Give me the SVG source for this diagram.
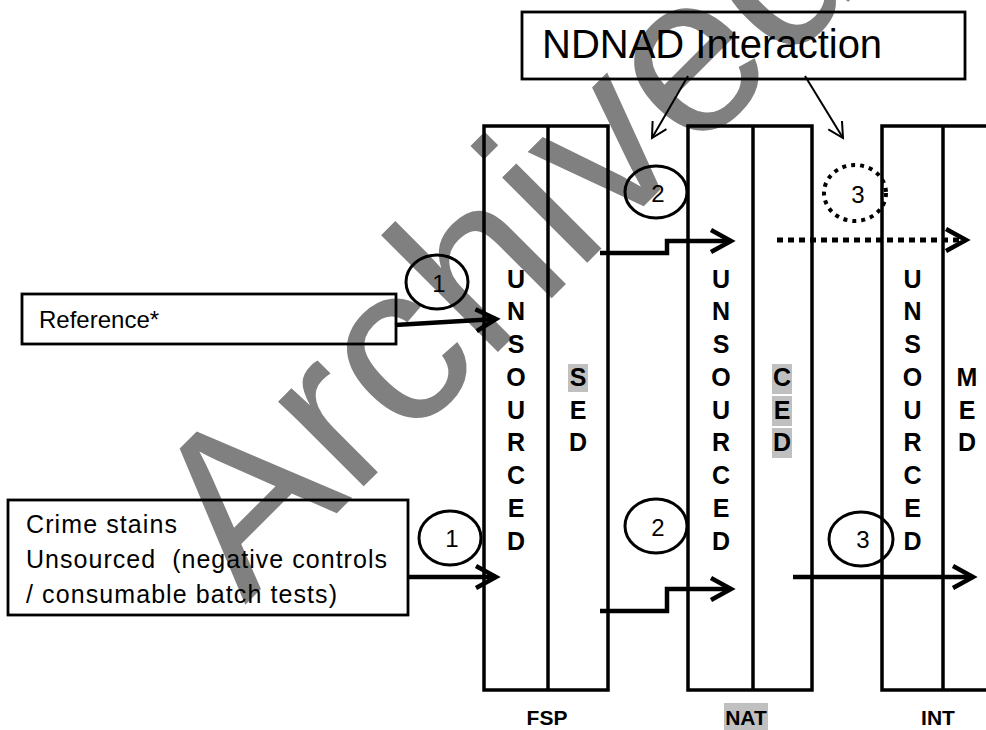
<svg xmlns="http://www.w3.org/2000/svg" width="986" height="730" viewBox="0 0 986 730">
<defs>
<style>
.col{fill:none;stroke:#000;stroke-width:3.5}
.box{fill:none;stroke:#000;stroke-width:2.8}
.circ{fill:none;stroke:#000;stroke-width:3}
.dotc{fill:none;stroke:#000;stroke-width:4;stroke-dasharray:4 5}
.t{font-family:"Liberation Sans",Arial,sans-serif;fill:#000}
.lt{font-family:"Liberation Sans",Arial,sans-serif;font-weight:bold;font-size:25px;text-anchor:middle;fill:#000}
.num{font-family:"Liberation Sans",Arial,sans-serif;font-size:24px;text-anchor:middle;fill:#000}
.lab{font-family:"Liberation Sans",Arial,sans-serif;font-weight:bold;font-size:21px;text-anchor:middle;fill:#000}
.hl{fill:#c0c0c0}
.arr{fill:none;stroke:#000;stroke-width:4.5;marker-end:url(#ah)}
.thin{fill:none;stroke:#000;stroke-width:2;marker-end:url(#ahs)}
.dash{fill:none;stroke:#000;stroke-width:5;stroke-dasharray:6 5}
.wm{font-family:"Liberation Sans",Arial,sans-serif;fill:#808080}
</style>
<marker id="ah" markerUnits="userSpaceOnUse" viewBox="-22 -13 26 26" refX="0" refY="0" markerWidth="26" markerHeight="26" orient="auto" overflow="visible">
<path d="M-20,-11 L0,0 L-20,11" fill="none" stroke="#000" stroke-width="4.5"/>
</marker>
<marker id="ahs" markerUnits="userSpaceOnUse" viewBox="-16 -10 20 20" refX="0" refY="0" markerWidth="20" markerHeight="20" orient="auto" overflow="visible">
<path d="M-15,-8 L0,0 L-15,8" fill="none" stroke="#000" stroke-width="2"/>
</marker>
</defs>
<rect x="0" y="0" width="986" height="730" fill="#fff"/>

<text id="watermark" class="wm" font-size="228" transform="translate(245,605) rotate(-45)">Archived</text>

<g id="ndnad">
<rect class="box" x="522" y="12" width="443" height="67"/>
<text class="t" x="542" y="58" font-size="40">NDNAD Interaction</text>
</g>

<g id="reference">
<rect class="box" x="22" y="294" width="374" height="50"/>
<text class="t" x="39" y="328" font-size="24">Reference*</text>
</g>

<g id="crime">
<rect class="box" x="8" y="500" width="400" height="115"/>
<text class="t" x="26" y="533" font-size="25" textLength="151">Crime stains</text>
<text class="t" x="26" y="568" font-size="25" textLength="361" xml:space="preserve">Unsourced  (negative controls</text>
<text class="t" x="26" y="603" font-size="25" textLength="311">/ consumable batch tests)</text>
</g>

<g id="fsp">
<rect class="col" x="484" y="126" width="124" height="564"/>
<line class="col" x1="548" y1="126" x2="548" y2="690"/>
<text class="lt" x="516"><tspan x="516" y="287.5">U</tspan><tspan x="516" y="320.3">N</tspan><tspan x="516" y="353">S</tspan><tspan x="516" y="385.8">O</tspan><tspan x="516" y="418.5">U</tspan><tspan x="516" y="451.3">R</tspan><tspan x="516" y="484">C</tspan><tspan x="516" y="516.8">E</tspan><tspan x="516" y="549.5">D</tspan></text>
<rect class="hl" x="568" y="364" width="20" height="28"/>
<text class="lt"><tspan x="578" y="385.8">S</tspan><tspan x="578" y="418.5">E</tspan><tspan x="578" y="451.3">D</tspan></text>
<text class="lab" x="547" y="725">FSP</text>
</g>

<g id="nat">
<rect class="col" x="688" y="126" width="124" height="564"/>
<line class="col" x1="753" y1="126" x2="753" y2="690"/>
<text class="lt"><tspan x="721" y="287.5">U</tspan><tspan x="721" y="320.3">N</tspan><tspan x="721" y="353">S</tspan><tspan x="721" y="385.8">O</tspan><tspan x="721" y="418.5">U</tspan><tspan x="721" y="451.3">R</tspan><tspan x="721" y="484">C</tspan><tspan x="721" y="516.8">E</tspan><tspan x="721" y="549.5">D</tspan></text>
<rect class="hl" x="772" y="364" width="20" height="30"/>
<rect class="hl" x="772" y="396" width="20" height="30"/>
<rect class="hl" x="772" y="428" width="20" height="30"/>
<text class="lt"><tspan x="782" y="385.8">C</tspan><tspan x="782" y="418.5">E</tspan><tspan x="782" y="451.3">D</tspan></text>
<rect class="hl" x="724" y="703" width="44" height="27"/>
<text class="lab" x="746" y="725">NAT</text>
</g>

<g id="int">
<path class="col" d="M986,126 H882 V690 H986"/>
<line class="col" x1="943" y1="126" x2="943" y2="690"/>
<text class="lt"><tspan x="912.5" y="287.5">U</tspan><tspan x="912.5" y="320.3">N</tspan><tspan x="912.5" y="353">S</tspan><tspan x="912.5" y="385.8">O</tspan><tspan x="912.5" y="418.5">U</tspan><tspan x="912.5" y="451.3">R</tspan><tspan x="912.5" y="484">C</tspan><tspan x="912.5" y="516.8">E</tspan><tspan x="912.5" y="549.5">D</tspan></text>
<text class="lt"><tspan x="967" y="385.8">M</tspan><tspan x="967" y="418.5">E</tspan><tspan x="967" y="451.3">D</tspan></text>
<text class="lab" x="938" y="725">INT</text>
</g>

<g id="markers">
<ellipse class="circ" cx="437" cy="282" rx="31" ry="27"/>
<text class="num" x="439" y="292">1</text>
<ellipse class="circ" cx="450" cy="538" rx="31" ry="27"/>
<text class="num" x="452" y="547">1</text>
<ellipse class="circ" cx="656" cy="192" rx="31" ry="26"/>
<text class="num" x="658" y="202">2</text>
<ellipse class="circ" cx="656" cy="526" rx="31" ry="27"/>
<text class="num" x="658" y="536">2</text>
<ellipse class="dotc" cx="855" cy="193" rx="31" ry="28"/>
<text class="num" x="858" y="203">3</text>
<ellipse class="circ" cx="861" cy="539" rx="32" ry="27"/>
<text class="num" x="863" y="548">3</text>
</g>

<g id="connectors">
<line class="thin" x1="688" y1="76" x2="652" y2="138"/>
<line class="thin" x1="805" y1="76" x2="843" y2="138"/>
<line class="arr" x1="395" y1="325" x2="496" y2="319"/>
<line class="arr" x1="407" y1="577" x2="496" y2="577"/>
<path class="arr" d="M600,253 H667 V241 H731"/>
<path class="arr" d="M600,611 H667 V589 H731"/>
<line class="dash" x1="777" y1="240" x2="966" y2="240" marker-end="url(#ah)"/>
<line class="arr" x1="793" y1="577" x2="973" y2="577"/>
</g>
</svg>
